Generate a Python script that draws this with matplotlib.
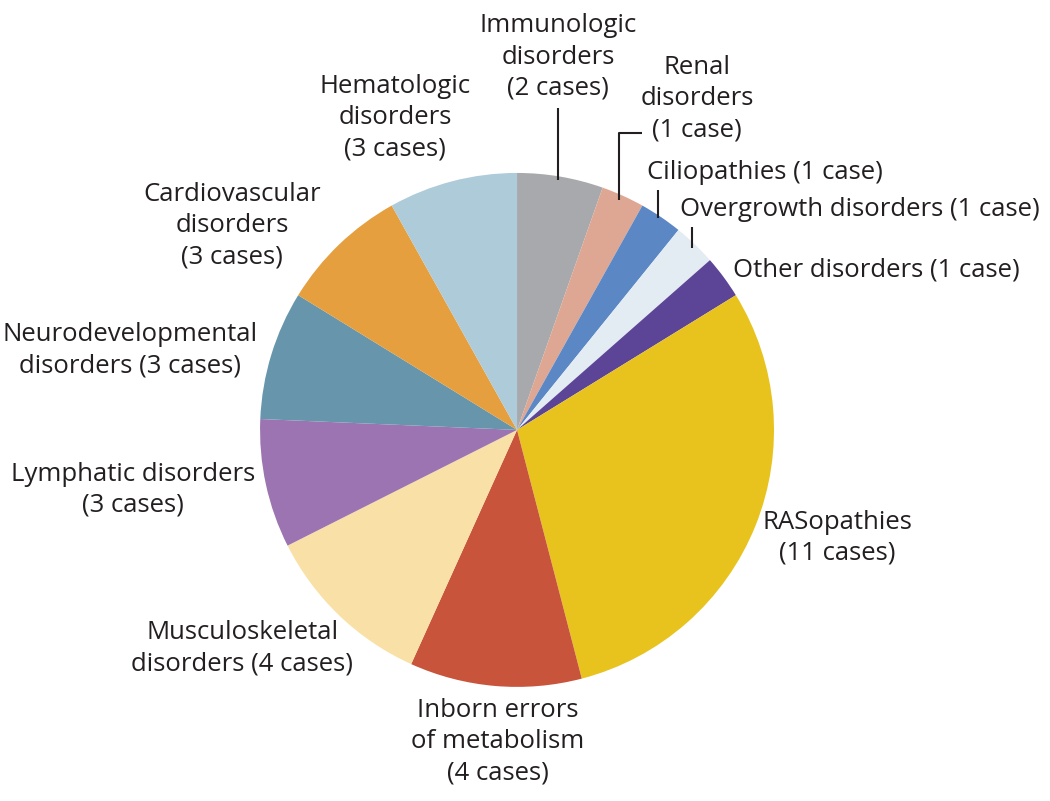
import matplotlib
matplotlib.use("Agg")
import matplotlib.pyplot as plt

plt.rcParams["font.family"] = ["Open Sans", "DejaVu Sans"]

categories = ["Immunologic", "Renal", "Ciliopathies", "Overgrowth", "Other",
              "RASopathies", "Inborn errors", "Musculoskeletal", "Lymphatic",
              "Neurodevelopmental", "Cardiovascular", "Hematologic"]
cases = [2, 1, 1, 1, 1, 11, 4, 4, 3, 3, 3, 3]
labels = [
    "Immunologic\ndisorders\n(2 cases)",
    "Renal\ndisorders\n(1 case)",
    "Ciliopathies (1 case)",
    "Overgrowth disorders (1 case)",
    "Other disorders (1 case)",
    "RASopathies\n(11 cases)",
    "Inborn errors\nof metabolism\n(4 cases)",
    "Musculoskeletal\ndisorders (4 cases)",
    "Lymphatic disorders\n(3 cases)",
    "Neurodevelopmental\ndisorders (3 cases)",
    "Cardiovascular\ndisorders\n(3 cases)",
    "Hematologic\ndisorders\n(3 cases)",
]
colors = ["#a7a9ac", "#dea794", "#5b87c5", "#e3ecf2", "#5c4497", "#e8c31e",
          "#c8543c", "#f9e0a6", "#9b74b1", "#6796ac", "#e59f3e", "#aecbd9"]

# label placement (pie radius = 1)
label_pos = [(0.16, 1.451, "center"), (0.70, 1.29, "center"), (0.506, 1.003, "left"),
             (0.634, 0.856, "left"), (0.840, 0.623, "left"), (1.245, -0.420, "center"),
             (-0.074, -1.214, "center"), (-1.07, -0.849, "center"), (-1.494, -0.233, "center"),
             (-1.506, 0.311, "center"), (-1.109, 0.794, "center"), (-0.475, 1.214, "center")]
leaders = {
    0: [(0.16, 1.253), (0.16, 0.973)],
    1: [(0.486, 1.156), (0.397, 1.156), (0.397, 0.895)],
    2: [(0.549, 0.934), (0.549, 0.825)],
    3: [(0.681, 0.790), (0.681, 0.708)],
}

fig = plt.figure(figsize=(10.5, 8.01), dpi=100)
ax = fig.add_axes([0, 0, 1, 1])
ax.pie(cases, colors=colors, startangle=90, counterclock=False, radius=1,
       wedgeprops=dict(linewidth=0))

for lab, (x, y, ha) in zip(labels, label_pos):
    ax.text(x, y, lab, ha=ha, va="center", fontsize=18.5, color="#231f20",
            linespacing=1.33)

for pts in leaders.values():
    xs = [p[0] for p in pts]
    ys = [p[1] for p in pts]
    ax.plot(xs, ys, color="#231f20", lw=1.5, solid_capstyle="butt")

ax.set_xlim(-2.012, 2.074)
ax.set_ylim(-1.444, 1.673)
ax.set_aspect("auto")
ax.axis("off")

fig.savefig("out.png", dpi=100)
